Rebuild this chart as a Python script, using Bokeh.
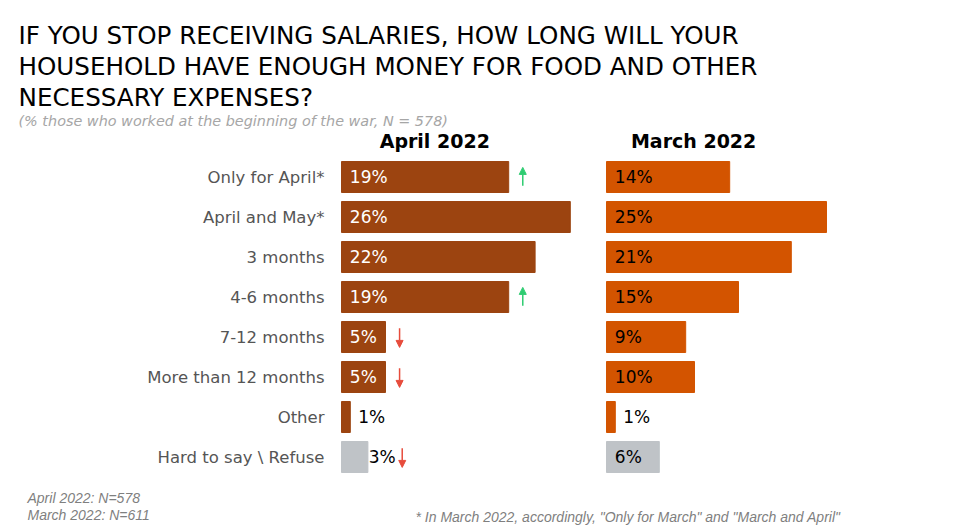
from bokeh.plotting import figure
from bokeh.models import ColumnDataSource, Range1d, Label, Arrow, NormalHead
from bokeh.core.properties import value
from bokeh.embed import file_html
from bokeh.resources import INLINE

# ---- data ----
categories = ["Only for April*", "April and May*", "3 months", "4-6 months",
              "7-12 months", "More than 12 months", "Other", "Hard to say \\ Refuse"]
april = [19, 26, 22, 19, 5, 5, 1, 3]
march = [14, 25, 21, 15, 9, 10, 1, 6]
april_change = ["up", "", "", "up", "down", "down", "", "down"]
panel_titles = ["April 2022", "March 2022"]

title_lines = ["IF YOU STOP RECEIVING SALARIES, HOW LONG WILL YOUR",
               "HOUSEHOLD HAVE ENOUGH MONEY FOR FOOD AND OTHER",
               "NECESSARY EXPENSES?"]
subtitle = "(% those who worked at the beginning of the war, N = 578)"
notes_left = ["April 2022: N=578", "March 2022: N=611"]
note_right = '* In March 2022, accordingly, "Only for March" and "March and April"'

# ---- style ----
W, H = 958, 528
PX = 8.8                     # pixels per percent
X0 = 341                     # px where April bars start
MARCH_OFF = 265 / PX         # offset of March panel in % units
ROW_PX = 40
ROW0 = 176.5
C_APR = "#9C4410"
C_MAR = "#D35400"
C_GRAY = "#BFC3C7"
FONT = "DejaVu Sans"

p = figure(width=W, height=H, output_backend="svg", toolbar_location=None,
           x_range=Range1d(-X0 / PX, (W - X0) / PX),
           y_range=Range1d((H - ROW0) / ROW_PX, -ROW0 / ROW_PX),
           x_axis_type=None, y_axis_type=None, min_border=0)
p.outline_line_color = None
p.xgrid.visible = False
p.ygrid.visible = False
p.background_fill_color = "white"
p.border_fill_color = "white"

n = len(categories)
rows = list(range(n))
last = n - 1

# bars
apr_colors = [C_GRAY if i == last else C_APR for i in rows]
mar_colors = [C_GRAY if i == last else C_MAR for i in rows]
src_a = ColumnDataSource(dict(y=rows, left=[0] * n, right=april, color=apr_colors))
src_m = ColumnDataSource(dict(y=rows, left=[MARCH_OFF] * n,
                              right=[MARCH_OFF + v for v in march], color=mar_colors))
p.hbar(y="y", left="left", right="right", height=31 / ROW_PX, color="color", source=src_a)
p.hbar(y="y", left="left", right="right", height=31 / ROW_PX, color="color", source=src_m)

# category labels
p.text(x=[-17 / PX] * n, y=rows, text=categories, text_align="right",
       text_baseline="middle", text_font=value(FONT), text_font_size="16.5px",
       text_color="#555555")

# value labels
def lab_pos(vals, off, inside_color, gray_row_inside):
    xs, cols = [], []
    for i, v in enumerate(vals):
        if v >= 5 or (i == last and gray_row_inside):
            xs.append(off + 0.95)
            cols.append("black" if i == last else inside_color)
        else:
            xs.append(off + v + (0.9 if v < 2 else 0.1))
            cols.append("black")
    return xs, cols

ax, acol = lab_pos(april, 0, "white", False)
mx, mcol = lab_pos(march, MARCH_OFF, "black", True)
p.text(x=ax, y=rows, text=[f"{v}%" for v in april], text_baseline="middle",
       text_font=value(FONT), text_font_size="17px", text_color=acol)
p.text(x=mx, y=rows, text=[f"{v}%" for v in march], text_baseline="middle",
       text_font=value(FONT), text_font_size="17px", text_color=mcol)

# panel headers
p.text(x=[10.6, MARCH_OFF + 9.9], y=[-0.9, -0.9], text=panel_titles,
       text_align="center", text_baseline="middle", text_font=value(FONT),
       text_font_size="19px", text_font_style="bold", text_color="black")

# change arrows
up = dict(x0=[], y0=[], x1=[], y1=[])
dn = dict(x0=[], y0=[], x1=[], y1=[])
for i, ch in enumerate(april_change):
    if not ch:
        continue
    v = april[i]
    x = v + (1.6 if v >= 5 else 3.9)
    if ch == "up":
        up["x0"].append(x); up["x1"].append(x)
        up["y0"].append(i + 0.22); up["y1"].append(i - 0.24)
    else:
        dn["x0"].append(x); dn["x1"].append(x)
        dn["y0"].append(i - 0.22); dn["y1"].append(i + 0.26)

p.add_layout(Arrow(x_start="x0", y_start="y0", x_end="x1", y_end="y1",
                   source=ColumnDataSource(up), line_color="#2ECC71", line_width=1.5,
                   end=NormalHead(size=7, fill_color="#2ECC71", line_color="#2ECC71")))
p.add_layout(Arrow(x_start="x0", y_start="y0", x_end="x1", y_end="y1",
                   source=ColumnDataSource(dn), line_color="#E74C3C", line_width=1.5,
                   end=NormalHead(size=7, fill_color="#E74C3C", line_color="#E74C3C")))

# title + subtitle
for k, line in enumerate(title_lines):
    p.add_layout(Label(x=18, y=H - 35 - 31 * k, x_units="screen", y_units="screen",
                       text=line, text_font=FONT, text_font_size="24.6px",
                       text_color="black", text_baseline="alphabetic"))
p.add_layout(Label(x=18, y=H - 120, x_units="screen", y_units="screen", text=subtitle,
                   text_font=FONT, text_font_size="14.4px", text_font_style="italic",
                   text_color="#A6A6A6", text_baseline="alphabetic"))

# footnotes
for k, t in enumerate(notes_left):
    p.add_layout(Label(x=27, y=H - 497 - 17 * k, x_units="screen", y_units="screen", text=t,
                       text_font="Liberation Sans", text_font_size="14px",
                       text_font_style="italic", text_color="#7F7F7F",
                       text_baseline="alphabetic"))
p.add_layout(Label(x=415, y=H - 516, x_units="screen", y_units="screen", text=note_right,
                   text_font="Liberation Sans", text_font_size="14px",
                   text_font_style="italic", text_color="#7F7F7F",
                   text_baseline="alphabetic"))

open("out.html", "w").write(file_html(p, INLINE))
